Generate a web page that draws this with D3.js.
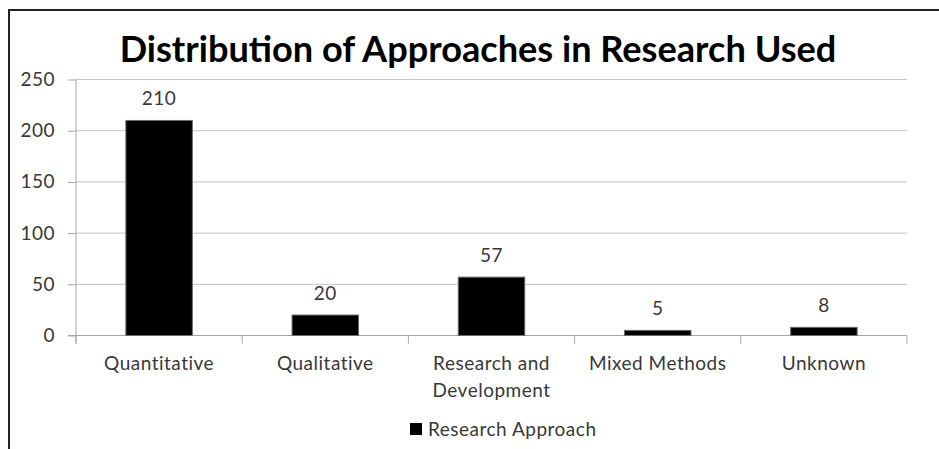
<!DOCTYPE html>
<html>
<head>
<meta charset="utf-8">
<script src="https://cdn.jsdelivr.net/npm/d3@7"></script>
<style>
  html, body { margin: 0; padding: 0; background: #fff; }
  svg { display: block; }
  text { font-family: Lato, "Open Sans", sans-serif; }
</style>
</head>
<body>
<script>
const categories = [["Quantitative"], ["Qualitative"], ["Research and", "Development"], ["Mixed Methods"], ["Unknown"]];
const values = [210, 20, 57, 5, 8];
const yTicks = [0, 50, 100, 150, 200, 250];
const title = "Distribution of Approaches in Research Used";
const seriesName = "Research Approach";

const W = 939, H = 449;
const FS = 19, LS = 0.5, TXT = "#383838";
const svg = d3.select("body").append("svg").attr("width", W).attr("height", H);

// frame
svg.append("path").attr("d", `M9,${H} L9,10 L${W},10`)
  .attr("fill", "none").attr("stroke", "#222").attr("stroke-width", 2);

const keys = categories.map(c => c.join(" "));
const x = d3.scaleBand().domain(keys).range([76, 907]).paddingInner(0.6).paddingOuter(0.3);
const y = d3.scaleLinear().domain([0, 250]).range([335.5, 79.5]);

// gridlines
svg.append("g").selectAll("line").data(yTicks.filter(d => d > 0)).join("line")
  .attr("x1", 76).attr("x2", 907)
  .attr("y1", d => y(d)).attr("y2", d => y(d))
  .attr("stroke", "#c4c4c4").attr("stroke-width", 1);

// y axis
const yAxis = svg.append("g").attr("transform", "translate(76,0)")
  .call(d3.axisLeft(y).tickValues(yTicks).tickSize(8).tickPadding(13));
yAxis.select(".domain").attr("stroke", "#a6a6a6").attr("d", `M0,${y(250)}V${y(0)+8}`);
yAxis.selectAll(".tick line").attr("stroke", "#a6a6a6");
yAxis.selectAll(".tick text").attr("font-size", FS).attr("fill", TXT)
  .attr("letter-spacing", LS).attr("font-family", "Lato, sans-serif");

// x axis
const step = x.step();
const xTickPos = d3.range(categories.length + 1).map(i => 76 + i * step);
svg.append("line").attr("x1", 68).attr("x2", 907).attr("y1", y(0)).attr("y2", y(0))
  .attr("stroke", "#a6a6a6");
svg.append("g").selectAll("line").data(xTickPos).join("line")
  .attr("x1", d => d).attr("x2", d => d)
  .attr("y1", y(0)).attr("y2", y(0) + 8)
  .attr("stroke", "#a6a6a6");

// bars
svg.append("g").selectAll("rect").data(values).join("rect")
  .attr("x", (d, i) => x(keys[i]))
  .attr("y", d => y(d))
  .attr("width", x.bandwidth())
  .attr("height", d => y(0) - y(d))
  .attr("fill", "#000")
  .attr("stroke", "#6a6a6a").attr("stroke-width", 1);

// value labels
svg.append("g").selectAll("text").data(values).join("text")
  .attr("x", (d, i) => x(keys[i]) + x.bandwidth() / 2)
  .attr("y", d => y(d) - 15)
  .attr("text-anchor", "middle")
  .attr("font-size", FS).attr("letter-spacing", LS).attr("fill", TXT)
  .text(d => d);

// category labels
const cl = svg.append("g").selectAll("text").data(categories).join("text")
  .attr("x", (d, i) => x(keys[i]) + x.bandwidth() / 2)
  .attr("y", 370)
  .attr("text-anchor", "middle")
  .attr("font-size", FS).attr("letter-spacing", LS).attr("fill", TXT);
cl.selectAll("tspan").data(d => d).join("tspan")
  .attr("x", function() { return this.parentNode.getAttribute("x"); })
  .attr("dy", (d, i) => i === 0 ? 0 : 27)
  .text(d => d);

// title
const t = svg.append("text").attr("x", 478).attr("y", 62)
  .attr("text-anchor", "middle").attr("font-size", 31).attr("font-weight", "bold")
  .attr("fill", "#000").text(title);
const tw = t.node().getComputedTextLength();
t.attr("font-size", 31 * 717 / tw);

// legend
svg.append("rect").attr("x", 410).attr("y", 423).attr("width", 12).attr("height", 12).attr("fill", "#000");
svg.append("text").attr("x", 428).attr("y", 436).attr("font-size", FS).attr("letter-spacing", LS)
  .attr("fill", TXT).text(seriesName);
</script>
</body>
</html>
